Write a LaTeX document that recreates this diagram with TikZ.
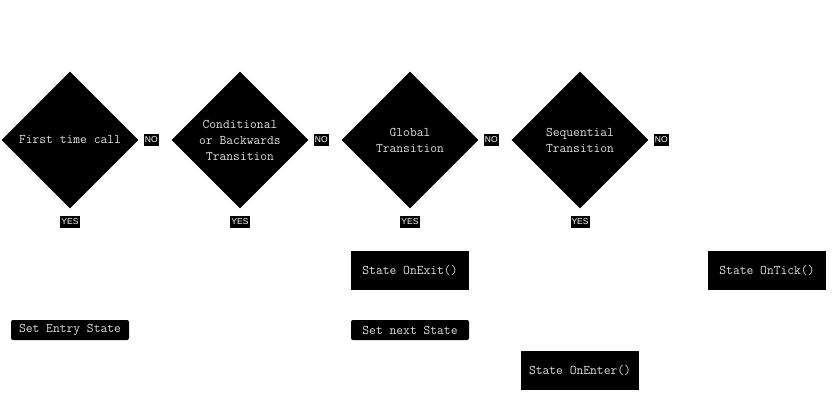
\documentclass[tikz,border=0pt]{standalone}
\usepackage{fontspec}
\setsansfont{Liberation Sans}
\usetikzlibrary{shapes.geometric,positioning}

\definecolor{txtgrey}{gray}{0.88}

\begin{document}
\begin{tikzpicture}[x=1pt,y=-1pt,
  decision/.style={diamond,fill=black,text=txtgrey,inner sep=0pt,
    minimum width=137pt,minimum height=137pt,align=center,
    font=\fontsize{13.2}{16}\ttfamily},
  tag/.style={fill=black,text=white,inner sep=1pt,minimum height=12pt,
    font=\fontsize{8.5}{9}\sffamily},
  action/.style={fill=black,text=txtgrey,minimum width=118pt,minimum height=39pt,
    font=\fontsize{13.2}{14}\ttfamily},
  setter/.style={action,minimum height=20pt,rounded corners=2pt}]
\useasboundingbox (0,0) rectangle (839,402);
% decisions with their NO / YES tags
\foreach \i/\x/\lab in {1/70/First time call,
    2/240/{Conditional\\or Backwards\\Transition},
    3/410/{Global\\Transition},
    4/580/{Sequential\\Transition}}{
  \node[decision] (d\i) at (\x,140) {\lab};
  \node[tag,right=5pt of d\i.east] (no\i) {NO};
  \node[tag,below=7pt of d\i.south] (yes\i) {YES};
}
% actions
\node[action] (onexit) at (410,270) {State OnExit()};
\node[action] (ontick) at (767,270) {State OnTick()};
\node[setter] (entry) at (70,330) {Set Entry State};
\node[setter] (next) at (410,330) {Set next State};
\node[action] (onenter) at (580,370) {State OnEnter()};
\end{tikzpicture}
\end{document}
